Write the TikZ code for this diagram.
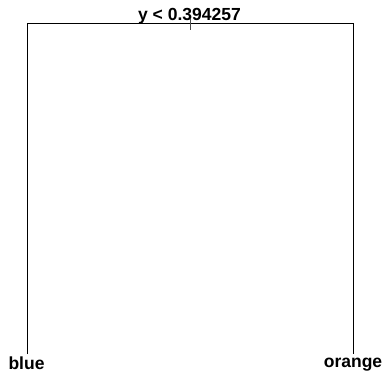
\documentclass[tikz,border=0pt]{standalone}
\usepackage{fontspec}
\setmainfont{Liberation Sans}
\usepackage{tikz}
\usetikzlibrary{calc}

\begin{document}
\begin{tikzpicture}[x=1pt,y=-1pt,line width=0.9pt,
    lbl/.style={font=\bfseries\fontsize{17.5}{18}\selectfont,inner sep=0pt,anchor=base}]
  \useasboundingbox (0,0) rectangle (385,372);
  % split and leaves
  \coordinate (root) at (190.5,23.5);
  \coordinate (lcorner) at (27.5,23.5);
  \coordinate (rcorner) at (353.5,23.5);
  \coordinate (lleaf) at (27.5,354);
  \coordinate (rleaf) at (353.5,354);
  \coordinate (tick) at (190.5,30);
  \node[lbl] (split) at (189.5,20.5) {y < 0.394257};
  \node[lbl] (blue) at (26.5,369) {blue};
  \node[lbl] (orange) at (353,367) {orange};
  \draw (lleaf) -- (lcorner) -- (rcorner) -- (rleaf);
  \draw[line width=0.5pt,black!70] ($(root)+(0,-5)$) -- (tick);
\end{tikzpicture}
\end{document}
